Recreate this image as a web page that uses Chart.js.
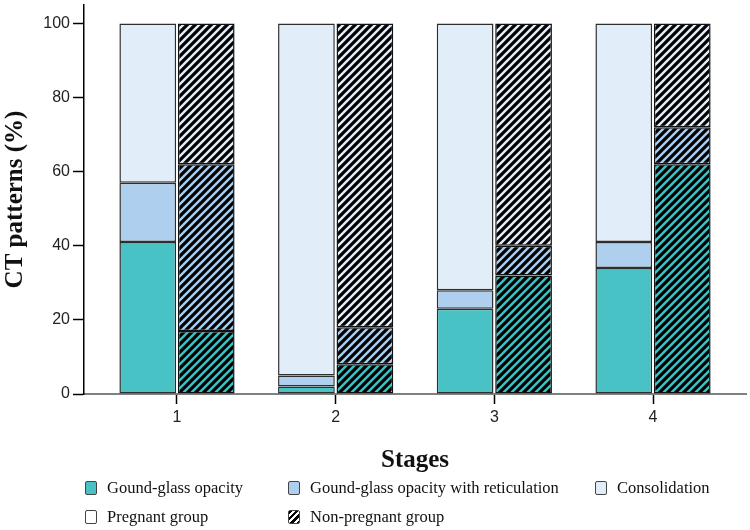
<!DOCTYPE html>
<html>
<head>
<meta charset="utf-8">
<script src="https://cdn.jsdelivr.net/npm/chart.js@4/dist/chart.umd.min.js"></script>
<style>
  html, body { margin:0; padding:0; background:#fff; }
  #wrap { position:relative; width:750px; height:530px; }
  #legend { position:absolute; left:0; top:0; width:750px; height:530px; pointer-events:none;
            font-family:"Liberation Serif","Times New Roman",serif; font-size:16.5px; color:#111; }
  .item { position:absolute; display:flex; align-items:center; white-space:nowrap; }
  .sw { width:12px; height:14px; border:1.5px solid #444; border-radius:2px; margin-right:10px; box-sizing:border-box; }
</style>
</head>
<body>
<div id="wrap">
  <canvas id="c" width="750" height="530"></canvas>
  <div id="legend"></div>
</div>
<script>
// ---- data ----
const stages = [1, 2, 3, 4];
const pregGGO  = [41, 2, 23, 34];
const pregRet  = [16, 3, 5, 7];
const pregCons = [43, 95, 72, 59];
const nonGGO   = [17, 8, 32, 62];
const nonRet   = [45, 10, 8, 10];
const nonCons  = [38, 82, 60, 28];
const yTicks = [0, 20, 40, 60, 80, 100];
const seriesNames = ['Gound-glass opacity', 'Gound-glass opacity with reticulation', 'Consolidation'];
const groupNames = ['Pregnant group', 'Non-pregnant group'];

// ---- styles ----
const colGGO = '#48c2c5', colRet = '#aecfee', colCons = '#e1eefa';
const stripeGGO = '#3fc0c3', stripeRet = '#a9cdee', stripeCons = '#e3eef9';

function makePattern(color) {
  const p = document.createElement('canvas');
  p.width = 8; p.height = 8;
  const g = p.getContext('2d');
  g.fillStyle = '#000'; g.fillRect(0, 0, 8, 8);
  g.strokeStyle = color; g.lineWidth = 2.4; g.lineCap = 'square';
  g.beginPath();
  g.moveTo(0, 8); g.lineTo(8, 0);
  g.moveTo(-2, 2); g.lineTo(2, -2);
  g.moveTo(6, 10); g.lineTo(10, 6);
  g.stroke();
  return document.getElementById('c').getContext('2d').createPattern(p, 'repeat');
}

const toPts = arr => stages.map((s, i) => ({ x: s, y: arr[i] }));
const common = { borderWidth: 1.5, borderSkipped: false, categoryPercentage: 0.737, barPercentage: 0.97 };

const datasets = [
  { label: seriesNames[0] + ' P', data: toPts(pregGGO),  backgroundColor: colGGO,  borderColor: '#2e2e2e', stack: 'preg', ...common },
  { label: seriesNames[1] + ' P', data: toPts(pregRet),  backgroundColor: colRet,  borderColor: '#2e2e2e', stack: 'preg', ...common },
  { label: seriesNames[2] + ' P', data: toPts(pregCons), backgroundColor: colCons, borderColor: '#2e2e2e', stack: 'preg', ...common },
  { label: seriesNames[0] + ' N', data: toPts(nonGGO),  backgroundColor: makePattern(stripeGGO),  borderColor: '#111', stack: 'non', ...common },
  { label: seriesNames[1] + ' N', data: toPts(nonRet),  backgroundColor: makePattern(stripeRet),  borderColor: '#111', stack: 'non', ...common },
  { label: seriesNames[2] + ' N', data: toPts(nonCons), backgroundColor: makePattern(stripeCons), borderColor: '#111', stack: 'non', ...common }
];

new Chart(document.getElementById('c'), {
  type: 'bar',
  data: { datasets },
  options: {
    responsive: false,
    animation: false,
    layout: { padding: { left: 0, right: 4, top: 5, bottom: 54 } },
    plugins: { legend: { display: false }, tooltip: { enabled: false } },
    scales: {
      x: {
        type: 'linear', min: 0.414, max: 4.586, offset: false,
        grid: { offset: false, drawOnChartArea: false, drawTicks: true, tickLength: 10, tickWidth: 1.5, tickColor: '#000' },
        border: { color: '#808080', width: 2 },
        ticks: { stepSize: 1, includeBounds: false, padding: 4, color: '#222',
                 font: { family: 'Liberation Sans, Arial, sans-serif', size: 16 } },
        afterBuildTicks: s => { s.ticks = stages.map(v => ({ value: v })); },
        title: { display: true, text: 'Stages', color: '#111', padding: { top: 0, bottom: 0 },
                 font: { family: 'Liberation Serif, Times New Roman, serif', size: 25, weight: 'bold' } },
        afterFit: s => { s.height = 82; s.paddingLeft = 0; s.paddingRight = 0; }
      },
      y: {
        stacked: true, min: 0, max: 105,
        grid: { drawOnChartArea: false, drawTicks: true, tickLength: 11, tickWidth: 1.5, tickColor: '#000' },
        border: { color: '#000', width: 1.5 },
        ticks: { stepSize: 20, includeBounds: false, padding: 3, color: '#222',
                 font: { family: 'Liberation Sans, Arial, sans-serif', size: 16 } },
        afterBuildTicks: s => { s.ticks = yTicks.map(v => ({ value: v })); },
        title: { display: true, text: 'CT patterns (%)', color: '#111', padding: { top: 1, bottom: 0 },
                 font: { family: 'Liberation Serif, Times New Roman, serif', size: 25, weight: 'bold' } },
        afterFit: s => { s.width = 84; s.paddingTop = 0; s.paddingBottom = 0; }
      }
    }
  }
});

// ---- legend ----
const legendItems = [
  { text: seriesNames[0], x: 85,  y: 488, bg: colGGO },
  { text: seriesNames[1], x: 288, y: 488, bg: colRet },
  { text: seriesNames[2], x: 595, y: 488, bg: colCons },
  { text: groupNames[0],  x: 85,  y: 517, bg: '#fff' },
  { text: groupNames[1],  x: 288, y: 517, bg: 'repeating-linear-gradient(135deg, #000 0px, #000 2.5px, #fff 2.5px, #fff 4.5px)' }
];
const leg = document.getElementById('legend');
legendItems.forEach(it => {
  const d = document.createElement('div');
  d.className = 'item';
  d.style.left = it.x + 'px';
  d.style.top = (it.y - 11) + 'px';
  d.style.height = '22px';
  const sw = document.createElement('span');
  sw.className = 'sw';
  sw.style.background = it.bg;
  const t = document.createElement('span');
  t.textContent = it.text;
  d.appendChild(sw); d.appendChild(t);
  leg.appendChild(d);
});
</script>
</body>
</html>
